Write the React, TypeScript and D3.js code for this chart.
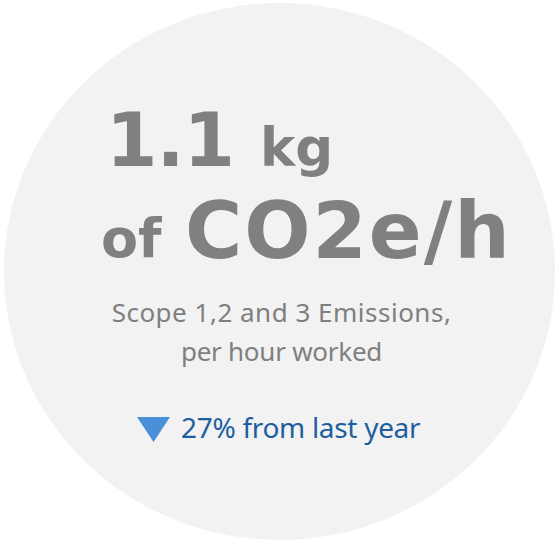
import React from "react";
import * as d3 from "d3";

const kpiValue = [1.1];
const unitLines = ["kg", "of", "CO2e/h"];
const subtitleLines = ["Scope 1,2 and 3 Emissions,", "per hour worked"];
const changeValues = [27];
const changeLabel = ["from last year"];

const W = 557;
const H = 542;

export default function App() {
  const fmt = d3.format(".1f");
  const p = d3.path();
  p.moveTo(137, 417);
  p.lineTo(170, 417);
  p.lineTo(153.5, 442);
  p.closePath();
  return (
    <svg
      width={W}
      height={H}
      style={{ position: "absolute", left: 0, top: 0, background: "#fff" }}
    >
      <ellipse cx={279.5} cy={271.5} rx={275.5} ry={268.5} fill="#f2f2f2" />
      <g fill="#808080" fontFamily="'DejaVu Sans'" fontWeight="bold">
        <text x={106} y={166} fontSize={74} letterSpacing={-1}>
          {fmt(kpiValue[0])}
        </text>
        <text x={260} y={166} fontSize={53}>
          {unitLines[0]}
        </text>
        <text x={101} y={257} fontSize={54}>
          {unitLines[1]}
        </text>
        <text x={185} y={258} fontSize={78} letterSpacing={2}>
          {unitLines[2]}
        </text>
      </g>
      <g fill="#7f7f7f" fontFamily="'Noto Sans'" fontSize={26} textAnchor="middle">
        <text x={281.5} y={322} letterSpacing={0.5}>{subtitleLines[0]}</text>
        <text x={281.5} y={361} letterSpacing={-0.25}>{subtitleLines[1]}</text>
      </g>
      <path d={p.toString()} fill="#4a90d9" />
      <text x={181} y={438} fill="#1f5fa0" fontFamily="'Noto Sans'" fontSize={28} letterSpacing={-0.3}>
        {`${changeValues[0]}% ${changeLabel[0]}`}
      </text>
    </svg>
  );
}
